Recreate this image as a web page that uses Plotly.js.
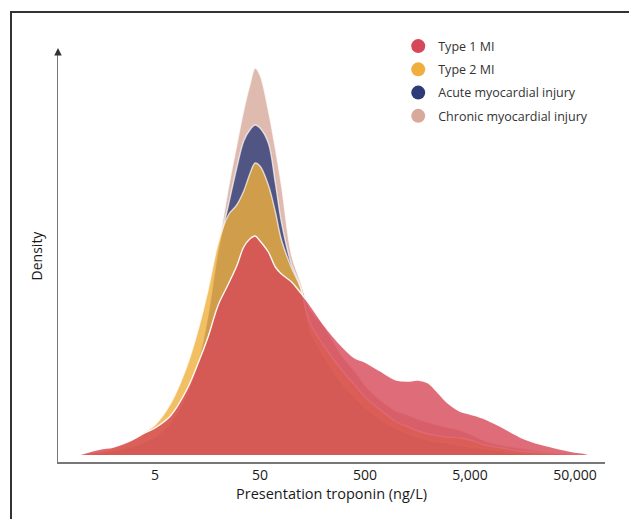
<!DOCTYPE html>
<html>
<head>
<meta charset="utf-8">
<script src="https://cdn.plot.ly/plotly-3.0.1.min.js"></script>
<style>
html,body{margin:0;padding:0;background:#fff;}
#chart{width:629px;height:519px;}
</style>
</head>
<body>
<div id="chart"></div>
<script>
// Troponin grid (ng/L)
const troponin = [1, 1.5, 2, 3, 4, 5, 7, 10, 13, 16, 20, 25, 30, 35, 40, 45, 50, 60, 70, 80, 100, 120, 150, 200, 300, 400, 500, 700, 1000, 1300, 1600, 2000, 2500, 3000, 4000, 5000, 7000, 10000, 15000, 20000, 30000, 40000, 50000, 60000, 70000];

// Densities (arbitrary units)
const type1 = [0.001, 0.006, 0.008, 0.015, 0.022, 0.027, 0.039, 0.065, 0.093, 0.118, 0.150, 0.171, 0.189, 0.208, 0.216, 0.219, 0.214, 0.203, 0.188, 0.181, 0.173, 0.163, 0.150, 0.131, 0.109, 0.097, 0.093, 0.084, 0.075, 0.074, 0.075, 0.072, 0.062, 0.053, 0.044, 0.041, 0.036, 0.028, 0.018, 0.013, 0.008, 0.005, 0.003, 0.002, 0.0];
const type2 = [0.001, 0.004, 0.007, 0.014, 0.023, 0.030, 0.051, 0.088, 0.127, 0.165, 0.212, 0.240, 0.250, 0.264, 0.281, 0.292, 0.289, 0.270, 0.243, 0.215, 0.187, 0.169, 0.132, 0.110, 0.085, 0.070, 0.058, 0.045, 0.033, 0.028, 0.024, 0.021, 0.019, 0.018, 0.017, 0.015, 0.010, 0.007, 0.004, 0.003, 0.002, 0.001, 0.0, 0.0, 0.0];
const acute = [0.0, 0.002, 0.004, 0.008, 0.013, 0.018, 0.032, 0.060, 0.095, 0.140, 0.205, 0.250, 0.287, 0.314, 0.325, 0.330, 0.327, 0.312, 0.272, 0.233, 0.190, 0.170, 0.125, 0.100, 0.072, 0.058, 0.048, 0.036, 0.026, 0.021, 0.018, 0.015, 0.013, 0.012, 0.010, 0.008, 0.006, 0.004, 0.002, 0.001, 0.0005, 0.0, 0.0, 0.0, 0.0];
const chronic = [0.0, 0.0015, 0.003, 0.007, 0.011, 0.015, 0.028, 0.055, 0.090, 0.135, 0.205, 0.267, 0.310, 0.345, 0.370, 0.387, 0.380, 0.345, 0.307, 0.270, 0.200, 0.175, 0.146, 0.130, 0.100, 0.084, 0.070, 0.055, 0.044, 0.040, 0.036, 0.033, 0.030, 0.028, 0.025, 0.021, 0.014, 0.010, 0.007, 0.005, 0.003, 0.002, 0.001, 0.0, 0.0];

const seriesNames = ["Type 1 MI", "Type 2 MI", "Acute myocardial injury", "Chronic myocardial injury"];
const tickValues = [5, 50, 500, 5000, 50000];
const tickLabels = ["5", "50", "500", "5,000", "50,000"];

const colors = ["rgb(214,72,88)", "rgb(240,175,60)", "rgb(45,60,120)", "rgb(215,170,155)"];
const fills = ["rgba(214,72,88,0.8)", "rgba(240,175,60,0.8)", "rgba(45,60,120,0.8)", "rgba(215,170,155,0.8)"];
const lineColors = ["rgba(255,255,255,0.95)", "rgba(255,255,255,0.7)", "rgba(255,255,255,0.7)", "rgba(255,255,255,0.7)"];
const dataSets = [type1, type2, acute, chronic];

const traces = [];
// draw back to front: chronic, acute, type 2, type 1
[3, 2, 1, 0].forEach(i => {
  traces.push({
    x: troponin, y: dataSets[i], type: 'scatter', mode: 'lines',
    line: {color: lineColors[i], width: 1.4, shape: 'spline', smoothing: 1},
    fill: 'tozeroy', fillcolor: fills[i], showlegend: false, hoverinfo: 'skip'
  });
});
// legend entries (circles)
[0, 1, 2, 3].forEach(i => {
  traces.push({
    x: [null], y: [null], type: 'scatter', mode: 'markers', name: seriesNames[i],
    legendgroup: 'g' + i,
    marker: {color: colors[i], size: 14, symbol: 'circle'}
  });
});

const layout = {
  width: 629, height: 519,
  margin: {l: 58, r: 24, t: 50, b: 57},
  paper_bgcolor: '#fff', plot_bgcolor: '#fff',
  font: {family: 'Open Sans, sans-serif', color: '#333', size: 13},
  showlegend: true,
  legend: {x: 0.622, y: 1.045, xanchor: 'left', yanchor: 'top', font: {size: 12.5, color: '#333'},
           tracegroupgap: 4, bgcolor: 'rgba(0,0,0,0)', itemwidth: 30},
  xaxis: {
    type: 'log', range: [-0.225, 4.985],
    tickvals: tickValues, ticktext: tickLabels, ticks: '',
    showgrid: false, zeroline: false, showline: true, linecolor: '#777', linewidth: 1.5,
    tickfont: {size: 14, color: '#1a1a1a'},
    title: {text: 'Presentation troponin (ng/L)', font: {size: 14.5, color: '#1a1a1a'}, standoff: 4}
  },
  yaxis: {
    range: [-0.007, 0.405], showticklabels: false, ticks: '',
    showgrid: false, zeroline: false, showline: true, linecolor: '#777', linewidth: 1.5,
    title: {text: 'Density', font: {size: 14, color: '#1a1a1a'}, standoff: 10}
  },
  shapes: [
    {type: 'rect', xref: 'paper', yref: 'paper', x0: -47/547, x1: 640/547 , y0: -80/412, y1: 1 + 38/412,
     line: {color: '#333', width: 2}, fillcolor: 'rgba(0,0,0,0)'}
  ],
  annotations: [
    {xref: 'paper', yref: 'paper', x: 0, y: 1.005, text: '', showarrow: true, arrowhead: 2, arrowsize: 1,
     arrowwidth: 1.5, arrowcolor: '#333', ax: 0, ay: 8}
  ]
};

Plotly.newPlot('chart', traces, layout, {displayModeBar: false, staticPlot: true});
</script>
</body>
</html>
